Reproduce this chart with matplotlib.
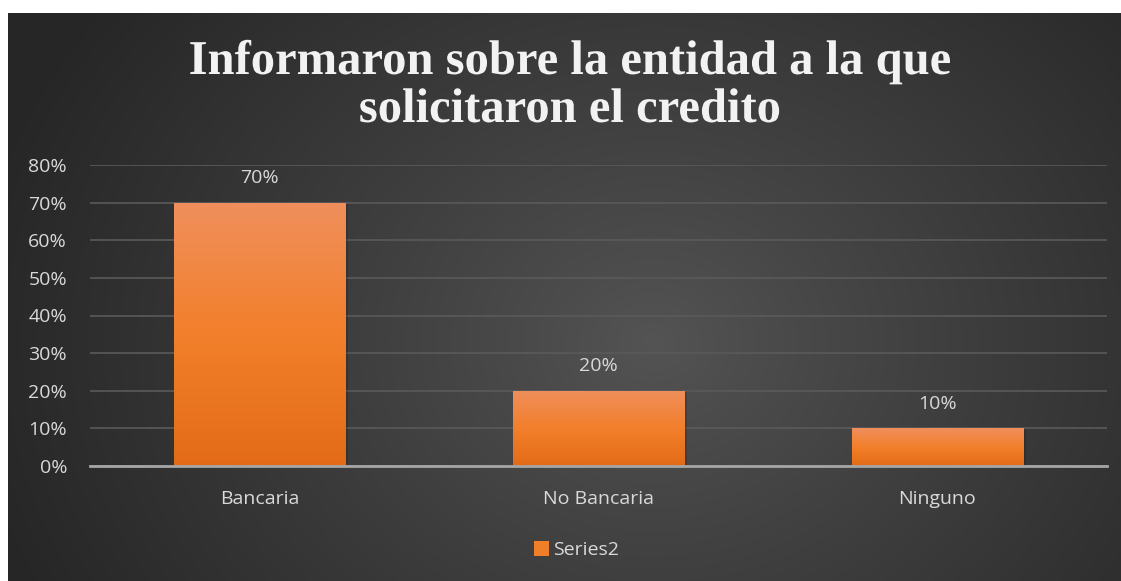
import numpy as np
import matplotlib.pyplot as plt
import matplotlib.patheffects as pe

# Datos del gráfico
categorias = ['Bancaria', 'No Bancaria', 'Ninguno']
valores = [0.70, 0.20, 0.10]
etiquetas = ['70%', '20%', '10%']
ticks_y = [0, 0.1, 0.2, 0.3, 0.4, 0.5, 0.6, 0.7, 0.8]
titulo = ['Informaron sobre la entidad a la que', 'solicitaron el credito']
serie = 'Series2'

W, H = 1121, 581
fuente = 'Open Sans'
tam = 14
gris = '#d9d9d9'
fig = plt.figure(figsize=(W / 100, H / 100), dpi=100)
fig.patch.set_facecolor('white')

# Fondo con degradado radial
ax_bg = fig.add_axes([8 / W, 0, 1 - 8 / W, (H - 13) / H])
yy, xx = np.mgrid[0:1:300j, 0:1:600j]
r = np.sqrt(((xx - 0.58) * 1.6) ** 2 + (yy - 0.42) ** 2)
r = np.clip(r / 1.0, 0, 1) ** 0.9
c0 = np.array([0.33, 0.33, 0.33])
c1 = np.array([0.15, 0.15, 0.15])
img = c0[None, None, :] * (1 - r[..., None]) + c1[None, None, :] * r[..., None]
ax_bg.imshow(img, aspect='auto', extent=[0, 1, 0, 1], origin='lower')
ax_bg.set_axis_off()
ax_bg.set_zorder(-10)

# Ejes principales
ax = fig.add_axes([90 / W, 1 - 466 / H, (1107 - 90) / W, (466 - 165) / H])
ax.patch.set_alpha(0)
x = np.arange(len(categorias))
barras = ax.bar(x, valores, width=0.505, color='#f07f2a', zorder=3)

# Degradado de las barras
grad = np.linspace(0, 1, 256)[:, None]
c_top = np.array([0.94, 0.56, 0.36])
c_mid = np.array([0.95, 0.50, 0.17])
c_bot = np.array([0.89, 0.42, 0.09])
g = np.where(grad < 0.5,
             c_bot + (c_mid - c_bot) * (grad / 0.5),
             c_mid + (c_top - c_mid) * ((grad - 0.5) / 0.5))
g = np.repeat(g[:, None, :], 2, axis=1)
for b in barras:
    x0, y0 = b.get_x(), b.get_y()
    w, h = b.get_width(), b.get_height()
    b.set_facecolor('none')
    b.set_path_effects([pe.SimplePatchShadow(offset=(2, -1), shadow_rgbFace='black', alpha=0.15), pe.Normal()])
    im = ax.imshow(g, extent=[x0, x0 + w, y0, y0 + h], origin='lower', aspect='auto', zorder=3)
    im.set_clip_path(b)

for xi, v, t in zip(x, valores, etiquetas):
    ax.annotate(t, (xi, v), xytext=(0, 14), textcoords='offset points', ha='center', va='baseline',
                color=gris, fontsize=tam, family=fuente)

ax.set_xlim(-0.5, 2.5)
ax.set_ylim(0, 0.8)
ax.set_yticks(ticks_y)
ax.set_yticklabels([f'{int(round(t * 100))}%' for t in ticks_y], color=gris, fontsize=tam, family=fuente)
ax.set_xticks(x)
ax.set_xticklabels(categorias, color=gris, fontsize=tam, family=fuente)
ax.tick_params(axis='y', length=0, pad=16.5)
ax.tick_params(axis='x', length=0, pad=17)
ax.grid(axis='y', color='#5a5a5a', linewidth=1.2, zorder=0)
for s in ['top', 'right', 'left']:
    ax.spines[s].set_visible(False)
ax.spines['bottom'].set_color('#a6a6a6')
ax.spines['bottom'].set_linewidth(2)
ax.spines['bottom'].set_zorder(4)

# Título
for i, linea in enumerate(titulo):
    t = fig.text(570 / W, 1 - (74 + 48 * i) / H, linea, ha='center', va='baseline',
                 fontsize=35, fontweight='bold', family='Liberation Serif', color='#f2f2f2')
    t.set_path_effects([pe.SimpleLineShadow(offset=(2, -2), shadow_color='black', alpha=0.5),
                        pe.Normal()])

# Leyenda
leg = ax.legend([barras[0]], [serie], loc='center',
                bbox_to_anchor=((576.5 - 90) / 1017, (466 - 550) / (466 - 165)),
                frameon=False, handlelength=0.8, handleheight=0.8, handletextpad=0.2,
                prop={'family': fuente, 'size': tam})
for txt in leg.get_texts():
    txt.set_color(gris)
for h in leg.legend_handles:
    h.set_facecolor('#f07f2a')
    h.set_path_effects([])

fig.savefig('out.png', dpi=100, facecolor='white')
